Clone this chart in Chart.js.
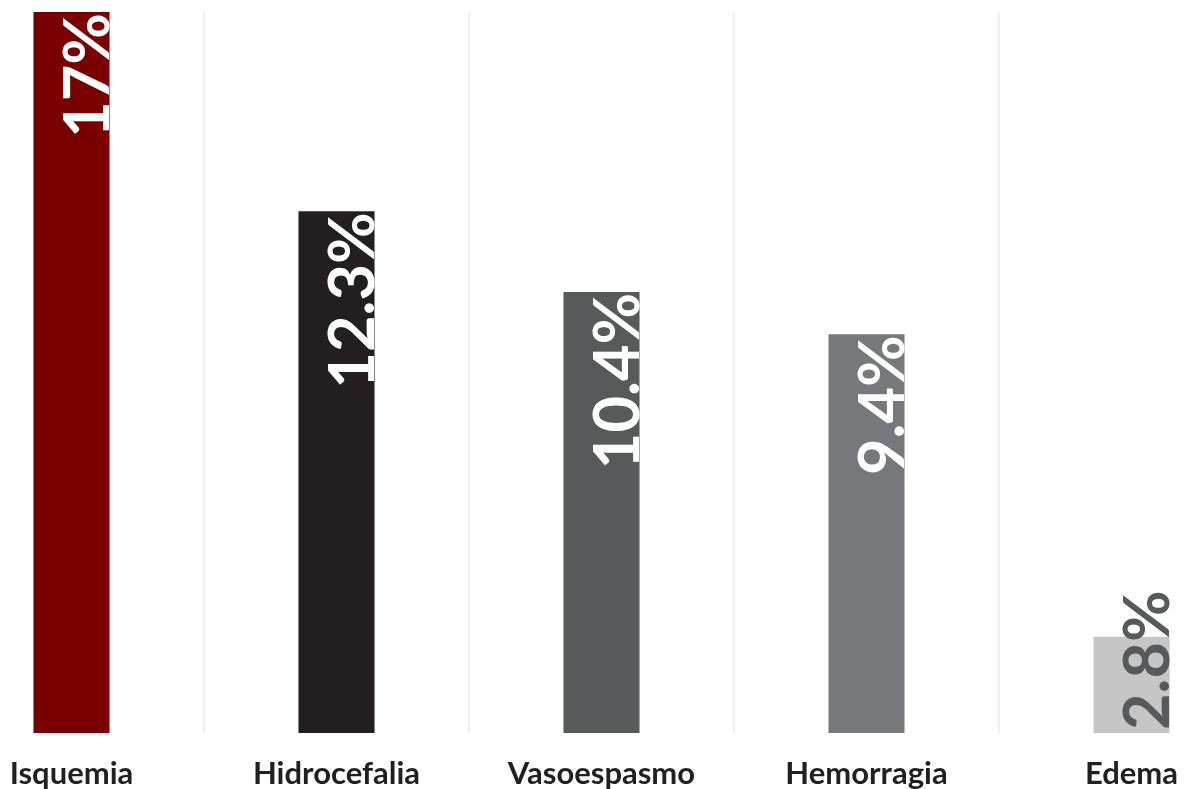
<!DOCTYPE html>
<html>
<head>
<meta charset="utf-8">
<script src="https://cdn.jsdelivr.net/npm/chart.js@4/dist/chart.umd.min.js"></script>
<style>
  html, body { margin: 0; padding: 0; background: #fff; overflow: hidden; }
  .wrap { position: absolute; left: -61px; top: 0; width: 1325px; height: 789px; }
</style>
</head>
<body>
<div class="wrap"><canvas id="myChart"></canvas></div>
<script>
// categories and values
const categories = ['Isquemia', 'Hidrocefalia', 'Vasoespasmo', 'Hemorragia', 'Edema']
const values = [17, 12.3, 10.4, 9.4, 2.27]
const valueLabels = ['17%', '12.3%', '10.4%', '9.4%', '2.8%']
const barColors = ['#7a0000', '#231f20', '#58595b', '#77787b', '#c6c6c6']

// rotated value labels, anchored at bar top (or bar base if they don't fit)
const rotatedLabels = {
  id: 'rotatedLabels',
  afterDatasetsDraw(chart) {
    const ctx = chart.ctx
    const meta = chart.getDatasetMeta(0)
    ctx.save()
    ctx.font = 'bold 63px Lato'
    meta.data.forEach((bar, i) => {
      const text = valueLabels[i]
      const w = ctx.measureText(text).width
      const right = bar.x + bar.width / 2 - 1
      const h = bar.base - bar.y
      ctx.save()
      ctx.translate(right, 0)
      ctx.rotate(-Math.PI / 2)
      ctx.textBaseline = 'alphabetic'
      if (w + 6 < h) {
        ctx.fillStyle = '#ffffff'
        ctx.textAlign = 'right'
        ctx.fillText(text, -(bar.y + 1), 0)
      } else {
        ctx.fillStyle = '#58595b'
        ctx.textAlign = 'left'
        ctx.fillText(text, -(bar.base - 3), 0)
      }
      ctx.restore()
    })
    ctx.restore()
  }
}

new Chart(document.getElementById('myChart'), {
  type: 'bar',
  data: {
    labels: categories,
    datasets: [{
      data: values,
      backgroundColor: barColors,
      borderWidth: 0,
      barPercentage: 0.287,
      categoryPercentage: 1
    }]
  },
  options: {
    responsive: true,
    maintainAspectRatio: false,
    animation: false,
    layout: { padding: { top: 12, left: 0, right: 0, bottom: 0 } },
    plugins: {
      legend: { display: false },
      tooltip: { enabled: false }
    },
    scales: {
      x: {
        offset: true,
        afterFit: (scale) => { scale.height = 56 },
        grid: {
          offset: true,
          color: '#efefef',
          lineWidth: 2,
          drawTicks: false
        },
        border: { display: false },
        ticks: {
          color: '#231f20',
          padding: 22,
          maxRotation: 0,
          font: { family: 'Lato', size: 31, weight: 'bold' }
        }
      },
      y: {
        display: false,
        min: 0,
        max: 17
      }
    }
  },
  plugins: [rotatedLabels]
})
</script>
</body>
</html>
